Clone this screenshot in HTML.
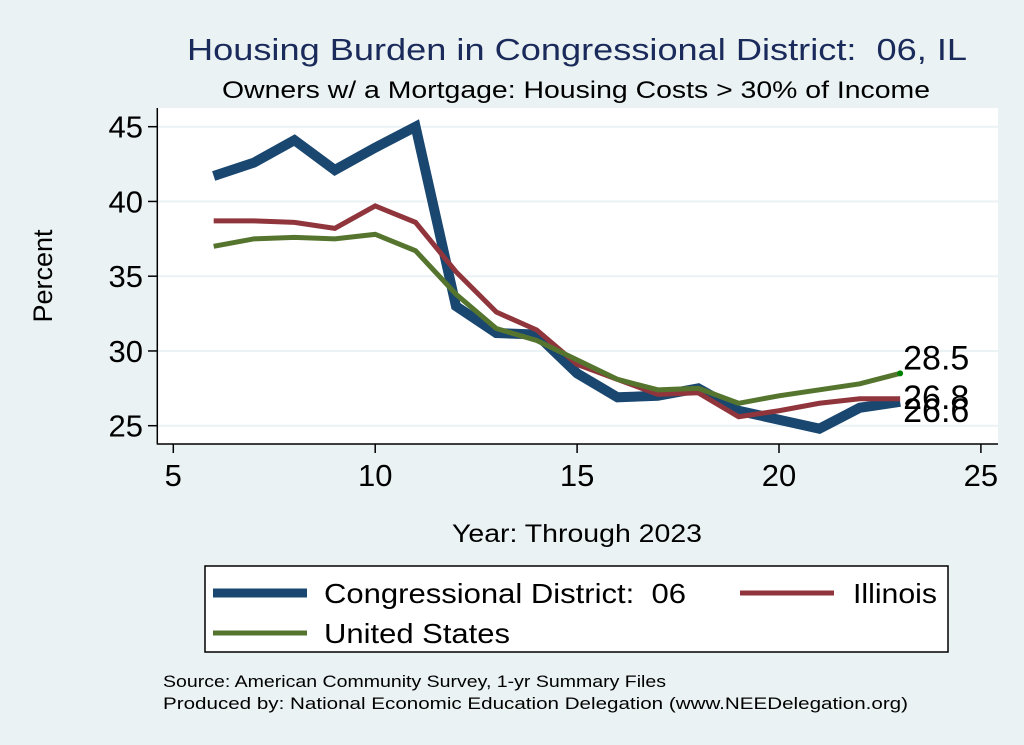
<!DOCTYPE html>
<html><head><meta charset="utf-8"><style>
body{margin:0;background:#eaf2f3;}
svg{display:block;font-family:"Liberation Sans",sans-serif;}
</style></head><body>
<svg id="chart" width="1024" height="745" viewBox="0 0 1024 745">
<rect x="0" y="0" width="1024" height="745" fill="#eaf2f3"/>
<text x="187" y="60" font-size="31" fill="#1a2a5a" textLength="780" lengthAdjust="spacingAndGlyphs" xml:space="preserve">Housing Burden in Congressional District:  06, IL</text>
<text x="222" y="98" font-size="24" fill="#000" textLength="708" lengthAdjust="spacingAndGlyphs">Owners w/ a Mortgage: Housing Costs &gt; 30% of Income</text>
<rect x="157" y="108" width="841" height="336" fill="#fff"/>
<g id="grid"></g>
<g id="axes"></g>
<g id="series"></g>
<g id="labels"></g>
<text x="52" y="276" text-anchor="middle" font-size="27" transform="rotate(-90 52 276)">Percent</text>
<text x="452" y="542" font-size="25" textLength="250" lengthAdjust="spacingAndGlyphs">Year: Through 2023</text>
<g>
<rect x="205" y="566" width="743" height="86" fill="#fff" stroke="#000" stroke-width="1.5"/>
<line x1="213" y1="593" x2="307" y2="593" stroke="#1a476f" stroke-width="9"/>
<text x="324" y="603" font-size="28" textLength="362" lengthAdjust="spacingAndGlyphs" xml:space="preserve">Congressional District:  06</text>
<line x1="740" y1="593" x2="834" y2="593" stroke="#90353b" stroke-width="5"/>
<text x="853" y="603" font-size="28" textLength="84" lengthAdjust="spacingAndGlyphs">Illinois</text>
<line x1="213" y1="633" x2="307" y2="633" stroke="#55752f" stroke-width="5"/>
<text x="324" y="643" font-size="28" textLength="186" lengthAdjust="spacingAndGlyphs">United States</text>
</g>
<text x="163" y="687" font-size="17" textLength="503" lengthAdjust="spacingAndGlyphs">Source: American Community Survey, 1-yr Summary Files</text>
<text x="163" y="709" font-size="17" textLength="745" lengthAdjust="spacingAndGlyphs">Produced by: National Economic Education Delegation (www.NEEDelegation.org)</text>
</svg>
<script>
const years=[6,7,8,9,10,11,12,13,14,15,16,17,18,19,20,21,22,23];
const district=[41.7,42.6,44.1,42.1,43.6,45.0,33.0,31.2,31.1,28.5,26.9,27.0,27.5,26.0,25.4,24.8,26.2,26.6];
const illinois=[38.7,38.7,38.6,38.2,39.7,38.6,35.3,32.6,31.4,29.1,28.1,27.1,27.2,25.6,26.0,26.5,26.8,26.8];
const us=[37.0,37.5,37.6,37.5,37.8,36.7,33.8,31.5,30.7,29.4,28.1,27.4,27.5,26.5,27.0,27.4,27.8,28.5];
const xTicks=[5,10,15,20,25];
const yTicks=[25,30,35,40,45];
const NS='http://www.w3.org/2000/svg';
function xs(v){return 173.3+(v-5)*40.38;}
function ys(v){return 425.7-(v-25)*14.95;}
function mk(tag,attrs,parent){const e=document.createElementNS(NS,tag);for(const k in attrs)e.setAttribute(k,attrs[k]);document.getElementById(parent).appendChild(e);return e;}
yTicks.forEach(t=>{
  const g=mk('line',{x1:158,x2:998,y1:ys(t),y2:ys(t),stroke:'#eaf2f3','stroke-width':2},'grid');
  
  
  const tk=mk('line',{x1:148,x2:157,y1:ys(t),y2:ys(t),stroke:'#000','stroke-width':1.5},'axes');
  
  
  const tl=mk('text',{x:143,y:ys(t)+11,'text-anchor':'end','font-size':31},'axes');
  tl.textContent=t;
  
  
});
xTicks.forEach(t=>{
  const tk=mk('line',{x1:xs(t),x2:xs(t),y1:444,y2:453,stroke:'#000','stroke-width':1.5},'axes');
  
  
  const tl=mk('text',{x:xs(t),y:486,'text-anchor':'middle','font-size':31},'axes');
  tl.textContent=t;
  
  
});
const ya=mk('line',{x1:157.3,x2:157.3,y1:108,y2:444.5,stroke:'#000','stroke-width':1.5},'axes');


const xa=mk('line',{x1:157,x2:998,y1:444,y2:444,stroke:'#000','stroke-width':1.5},'axes');


function line(vals,color,w,name){
  const p=mk('polyline',{points:vals.map((v,i)=>xs(years[i])+','+ys(v)).join(' '),fill:'none',stroke:color,'stroke-width':w,'stroke-linejoin':'miter'},'series');
  
  
}
line(district,'#1a476f',10,'series-district');
line(illinois,'#90353b',5,'series-illinois');
line(us,'#55752f',5,'series-us');
const last=years.length-1;
const dot=mk('circle',{cx:xs(years[last]),cy:ys(us[last]),r:3,fill:'#008000'},'series');


[[us,'label-us',-4],[illinois,'label-illinois',10],[district,'label-district',20]].forEach(([arr,n,dy])=>{
  const t=mk('text',{x:xs(years[last])+3,y:ys(arr[last])+dy,'font-size':34},'labels');
  t.textContent=arr[last].toFixed(1);
  
  
});
</script>
</body></html>
